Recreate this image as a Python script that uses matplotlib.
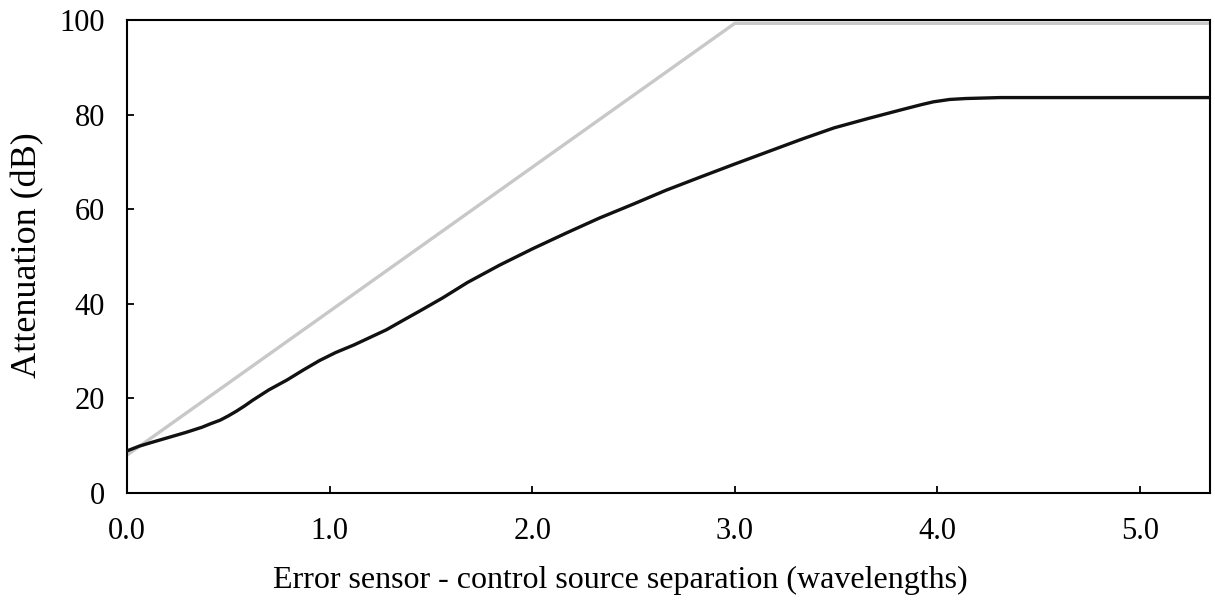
import matplotlib
matplotlib.use("Agg")
import matplotlib.pyplot as plt

# Separation between error sensor and control source, in wavelengths
sep_achieved = [0.0, 0.06, 0.13, 0.21, 0.29, 0.37, 0.41, 0.46, 0.50, 0.54, 0.58,
                0.62, 0.70, 0.79, 0.87, 0.95, 1.03, 1.12, 1.20, 1.28, 1.35, 1.45,
                1.56, 1.68, 1.84, 2.005, 2.17, 2.33, 2.50, 2.66, 2.83, 2.99, 3.16,
                3.33, 3.49, 3.66, 3.82, 3.92, 3.98, 4.06, 4.14, 4.31, 4.60, 5.00,
                5.35]
atten_achieved = [8.9, 9.9, 10.8, 11.8, 12.8, 13.9, 14.6, 15.4, 16.3, 17.3, 18.4,
                  19.6, 21.8, 23.9, 26.0, 28.0, 29.7, 31.3, 32.9, 34.5, 36.2, 38.6,
                  41.3, 44.5, 48.2, 51.7, 55.0, 58.1, 61.1, 64.0, 66.8, 69.4, 72.1,
                  74.8, 77.2, 79.2, 81.0, 82.1, 82.7, 83.2, 83.4, 83.6, 83.6, 83.6,
                  83.6]

# Theoretical limit
sep_limit = [0.0, 3.0, 5.35]
atten_limit = [8.0, 99.3, 99.3]

x_ticks = [0.0, 1.0, 2.0, 3.0, 4.0, 5.0]
x_tick_labels = ["0.0", "1.0", "2.0", "3.0", "4.0", "5.0"]
y_ticks = [0, 20, 40, 60, 80, 100]

plt.rcParams["font.family"] = ["Liberation Serif", "DejaVu Serif"]

fig = plt.figure(figsize=(12.15, 6.01), dpi=100)
ax = fig.add_axes([127 / 1215, 1 - 493 / 601, (1210 - 127) / 1215, (493 - 20) / 601])

ax.plot(sep_limit, atten_limit, color="#c8c8c8", lw=2.4, solid_capstyle="butt", zorder=2)
ax.plot(sep_achieved, atten_achieved, color="#111111", lw=2.4, zorder=3,
        solid_joinstyle="round")

ax.set_xlim(0, 5.345)
ax.set_ylim(0, 100)
ax.set_xticks(x_ticks)
ax.set_xticklabels(x_tick_labels)
ax.set_yticks(y_ticks)
ax.tick_params(direction="in", length=5, width=1.3, labelsize=22, color="black")
ax.tick_params(axis="x", pad=17)
ax.tick_params(axis="y", pad=16)
for s in ax.spines.values():
    s.set_linewidth(1.5)

fig.text(620 / 1215, 1 - 580 / 601, "Error sensor - control source separation (wavelengths)",
         ha="center", va="center", fontsize=23)
fig.text(28 / 1215, 1 - 255 / 601, "Attenuation (dB)", rotation=90,
         ha="center", va="center", fontsize=26)

fig.savefig("out.png", dpi=100, facecolor="white")
